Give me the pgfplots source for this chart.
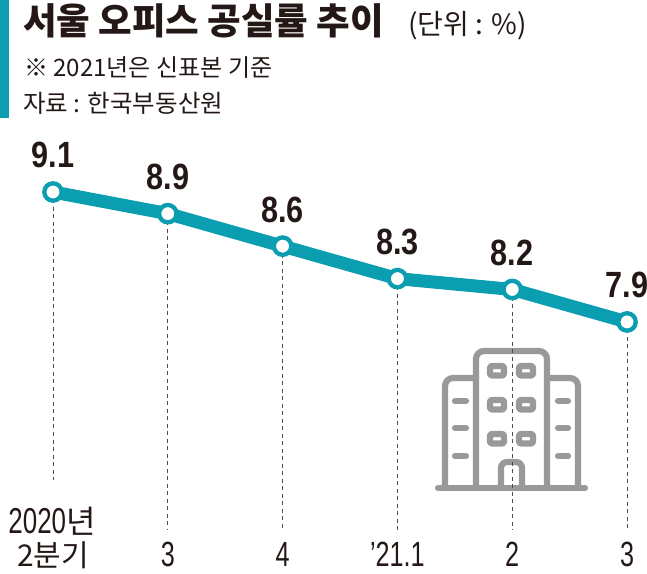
\documentclass[border=0pt]{standalone}
\usepackage{fontspec}
\usepackage{pgfplots}
\pgfplotsset{compat=1.18}
\setmainfont{Liberation Sans}
\newfontfamily\kr{Noto Sans CJK KR}
\newfontfamily\krb{Noto Sans CJK KR Black}
\newfontfamily\lat[FakeStretch=0.72]{Liberation Sans}
\newfontfamily\latb[FakeStretch=0.84]{Liberation Sans Bold}
\definecolor{teal1}{HTML}{0B9DB0}
\definecolor{ink}{HTML}{231815}
\definecolor{icon}{HTML}{999999}

\begin{document}
\begin{tikzpicture}
  \useasboundingbox (0,0) rectangle (647pt,573pt);

  % header and icon, in picture pixels from the top left
  \begin{scope}[x=1pt,y=-1pt,shift={(0pt,573pt)},text=ink]
    \fill[teal1] (0,0) rectangle (9,118);
    \node[anchor=base west,inner sep=0pt,font=\fontsize{36.5}{36}\selectfont] at (23,35)
      {\krb 서울 오피스 공실률 추이};
    \node[anchor=base west,inner sep=0pt,font=\fontsize{28}{28}\selectfont] at (408,35)
      {\kr (단위 : \%)};
    \node[anchor=base west,inner sep=0pt,font=\fontsize{24}{24}\selectfont] at (24,77)
      {\kr ※ 2021년은 신표본 기준};
    \node[anchor=base west,inner sep=0pt,font=\fontsize{24.5}{25}\selectfont] at (23,113)
      {\kr 자료 : 한국부동산원};

    \begin{scope}[draw=icon,line width=6.2pt,line cap=round,line join=round]
      \draw (438,488) -- (585,488);
      \draw[rounded corners=8pt] (476,488) -- (476,351) -- (547,351) -- (547,488);
      \draw[rounded corners=8pt] (476,378) -- (445,378) -- (445,488);
      \draw[rounded corners=8pt] (547,378) -- (578,378) -- (578,488);
      \draw[rounded corners=6pt] (501,488) -- (501,462) -- (522,462) -- (522,488);
      \foreach \wy in {366,400,434} {
        \foreach \wx in {490,519} {
          \draw[rounded corners=2pt] (\wx,\wy) rectangle ++(14,9.5);
        }
      }
      \foreach \dy in {401,428,456} {
        \draw (455,\dy) -- (466,\dy);
        \draw (558,\dy) -- (568,\dy);
      }
    \end{scope}
    \node[anchor=base,inner sep=0pt,font=\lat\fontsize{36}{36}\selectfont] at (52,533)
      {2020\kr\fontsize{32}{32}\selectfont 년};
  \end{scope}

  \begin{axis}[
    at={(0pt,40pt)},
    anchor=south west,
    scale only axis,
    width=647pt,
    height=533pt,
    xmin=-0.4617, xmax=5.174,
    ymin=5.951, ymax=10.873,
    clip=false,
    axis line style={draw=none},
    ytick=\empty,
    xtick=data,
    major tick length=0pt,
    xticklabels={{\kr\fontsize{30}{30}\selectfont 2분기},3,4,{’21.1},2,3},
    xticklabel style={font=\lat\fontsize{35}{35}\selectfont,text=ink,anchor=base,yshift=-33pt,inner sep=0pt},
  ]
  % dashed drop lines
  \addplot[draw=none,mark=none,
    error bars/.cd,y dir=minus,y explicit,error mark=none,
    error bar style={draw=black!70,line width=0.9pt,dash pattern=on 4pt off 3.5pt}]
    coordinates {
      (0,9.1) -= (0,2.66)
      (1,8.9) -= (0,2.92)
      (2,8.6) -= (0,2.62)
      (3,8.3) -= (0,2.32)
      (4,8.2) -= (0,2.22)
      (5,7.9) -= (0,1.92)
    };
  % series
  \addplot[teal1,line width=13pt,mark=none] coordinates {
    (0,9.1) (1,8.9) (2,8.6) (3,8.3) (4,8.2) (5,7.9)};
  \addplot[draw=none,mark=*,mark size=8.7pt,
    mark options={draw=teal1,fill=white,line width=4.3pt},
    nodes near coords,
    every node near coord/.append style={
      font=\latb\fontsize{36.5}{36}\selectfont,text=ink,anchor=base,
      yshift=24pt,inner sep=0pt,
      /pgf/number format/fixed,
      /pgf/number format/fixed zerofill,
      /pgf/number format/precision=1,
      /pgf/number format/assume math mode=true}]
    coordinates {
    (0,9.1) (1,8.9) (2,8.6) (3,8.3) (4,8.2) (5,7.9)};
  \end{axis}
\end{tikzpicture}
\end{document}
